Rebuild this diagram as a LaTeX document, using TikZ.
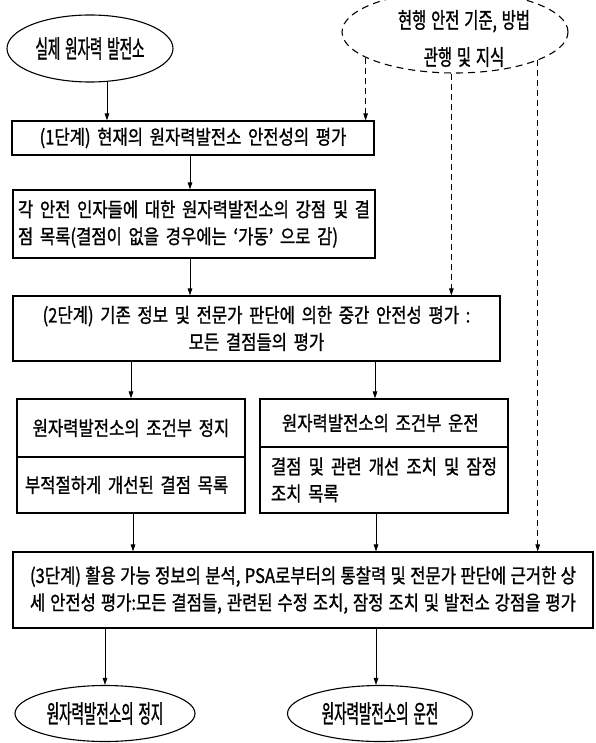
\documentclass[tikz,border=0pt]{standalone}
\usepackage{fontspec}
\newfontfamily\kr[FakeStretch=0.83,FakeBold=1.1,WordSpace=2]{Noto Sans CJK KR}
\newfontfamily\kre[FakeStretch=0.54,FakeBold=1.1,WordSpace=1.6]{Noto Sans CJK KR}
\newfontfamily\ked[FakeStretch=0.7,FakeBold=1.1,WordSpace=1.4]{Noto Sans CJK KR}
\usetikzlibrary{shapes.geometric,arrows.meta}
\begin{document}
\begin{tikzpicture}[x=1pt,y=-1pt,
  box/.style={draw, line width=1.1pt, rectangle, inner ysep=0pt,
    font=\kr\fontsize{20pt}{27pt}\selectfont},
  ell/.style={ellipse, draw, line width=1.1pt, inner sep=0pt,
    font=\kre\fontsize{25pt}{27pt}\selectfont},
  dell/.style={ellipse, draw, line width=1.1pt, inner sep=0pt, dash pattern=on 7pt off 5pt},
  arr/.style={line width=0.9pt, -{Triangle[length=7pt,width=4.5pt]}},
  darr/.style={arr, dash pattern=on 6pt off 4pt}]
\useasboundingbox (0,0) rectangle (596,743);
\fill[white] (0,0) rectangle (596,743);

% ellipses
\node[ell, minimum width=166pt, minimum height=67pt] (E1) at (90,48.5) {실제 원자력 발전소};
\node[dell, minimum width=226pt, minimum height=82pt] (E0) at (455,32) {};
\node[font=\ked\fontsize{22pt}{37pt}\selectfont, align=center, inner sep=0pt] (E0t) at (464,38.5)
  {현행 안전 기준, 방법\\관행 및 지식};

% boxes
\node[box, text width=352pt, inner xsep=5pt, minimum height=34pt, align=center] (B1) at (193,138)
  {(1단계) 현재의 원자력발전소 안전성의 평가};
\node[box, text width=352pt, inner xsep=5pt, minimum height=68pt, align=left] (B2) at (194,224)
  {\makebox[352pt]{각\hfill 안전\hfill 인자들에\hfill 대한\hfill 원자력발전소의\hfill 강점\hfill 및\hfill 결}\\
   점 목록(결점이 없을 경우에는 ‘가동’ 으로 감)};
\node[box, text width=477pt, inner xsep=5pt, minimum height=65pt, align=center] (B3) at (256.5,328.5)
  {(2단계) 기존 정보 및 전문가 판단에 의한 중간 안전성 평가 :\\ 모든 결점들의 평가};
\node[box, text width=218pt, inner xsep=5pt, minimum height=58pt, align=center] (B4t) at (131,428)
  {원자력발전소의 조건부 정지};
\node[box, text width=212pt, inner xsep=8pt, minimum height=56pt, align=left] (B4b) at (131,485)
  {부적절하게 개선된 결점 목록};
\node[box, text width=204pt, inner xsep=22pt, minimum height=48pt, align=left] (B5t) at (384,423)
  {원자력발전소의 조건부 운전};
\node[box, text width=226pt, inner xsep=11pt, minimum height=66pt, align=left] (B5b) at (384,480)
  {\makebox[226pt]{결점\hfill 및\hfill 관련\hfill 개선\hfill 조치\hfill 및\hfill 잠정}\\ 조치 목록};
\node[box, text width=546pt, inner xsep=17pt, minimum height=76pt, align=left] (B6) at (303,590)
  {\makebox[546pt]{(3단계)\hfill 활용\hfill 가능\hfill 정보의\hfill 분석,\hfill PSA로부터의\hfill 통찰력\hfill 및\hfill 전문가\hfill 판단에\hfill 근거한\hfill 상}\\
   \makebox[546pt]{세\hfill 안전성\hfill 평가:모든\hfill 결점들,\hfill 관련된\hfill 수정\hfill 조치,\hfill 잠정\hfill 조치\hfill 및\hfill 발전소\hfill 강점을\hfill 평가}};

\node[ell, minimum width=180pt, minimum height=56pt] (E2) at (105,713.5) {원자력발전소의 정지};
\node[ell, minimum width=185pt, minimum height=56pt] (E3) at (380,713.5) {원자력발전소의 운전};

% connector end points
\coordinate (p5t) at ([xshift=-9pt]B5t.north);
\coordinate (pE3) at ([xshift=-4pt]E3.north);

% solid connectors
\draw[arr] (E1.297) -- (E1.297 |- B1.north);
\draw[arr] ([xshift=-3pt]B1.south) -- ([xshift=-3pt]B1.south |- B2.north);
\draw[arr] ([xshift=-4pt]B2.south) -- ([xshift=-4pt]B2.south |- B3.north);
\draw[arr] (B3.south -| B4t.north) -- (B4t.north);
\draw[arr] (B3.south -| p5t) -- (p5t);
\draw[arr] ([xshift=2pt]B4b.south) -- ([xshift=2pt]B4b.south |- B6.north);
\draw[arr] ([xshift=-8pt]B5b.south) -- ([xshift=-8pt]B5b.south |- B6.north);
\draw[arr] (B6.south -| E2.north) -- (E2.north);
\draw[arr] (B6.south -| pE3) -- (pE3);

% dashed connectors
\draw[darr] (E0.196) -- (E0.196 |- B1.north);
\draw[darr] (E0.265) -- (E0.265 |- B3.north);
\draw[darr] (E0.341) -- (E0.341 |- B6.north);
\end{tikzpicture}
\end{document}
